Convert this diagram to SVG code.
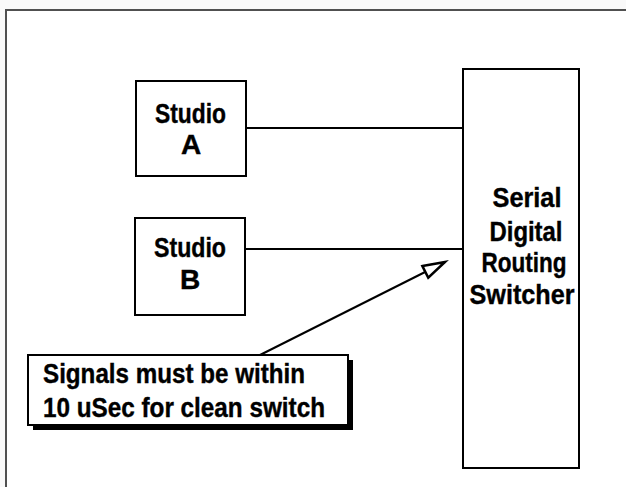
<svg xmlns="http://www.w3.org/2000/svg" width="626" height="487" viewBox="0 0 626 487">
<defs>
<style>
.box{fill:#fff;stroke:#000;stroke-width:2}
.lbl{font-family:"Liberation Sans",Arial,sans-serif;font-weight:bold;font-size:28px;fill:#000;stroke:#000;stroke-width:0.4;text-anchor:middle}
.cl{font-family:"Liberation Sans",Arial,sans-serif;font-weight:bold;font-size:28px;fill:#000;stroke:#000;stroke-width:0.4}
.ln{stroke:#000;stroke-width:2;fill:none}
</style>
<marker id="open" markerUnits="userSpaceOnUse" markerWidth="30" markerHeight="20" refX="24" refY="8" orient="auto" viewBox="0 0 30 16">
<path d="M2,1.5 L24,8 L2,14.5 Z" fill="#fff" stroke="#000" stroke-width="2.5" stroke-linejoin="miter"/>
</marker>
</defs>
<rect x="0" y="0" width="626" height="487" fill="#f9f9f9"/>
<rect x="6" y="10" width="640" height="500" fill="#fff" stroke="#505050" stroke-width="2"/>
<g id="connectors">
<line class="ln" x1="246" y1="128" x2="463" y2="128"/>
<line class="ln" x1="245" y1="249" x2="463" y2="249"/>
<line class="ln" x1="260" y1="355" x2="445" y2="262" marker-end="url(#open)"/>
</g>
<g id="studioA">
<rect class="box" x="136" y="81" width="110" height="95"/>
<text class="lbl" x="190.5" y="123" textLength="71" lengthAdjust="spacingAndGlyphs">Studio</text>
<text class="lbl" x="191" y="154">A</text>
</g>
<g id="studioB">
<rect class="box" x="135" y="218" width="110" height="97"/>
<text class="lbl" x="190" y="257" textLength="72" lengthAdjust="spacingAndGlyphs">Studio</text>
<text class="lbl" x="190" y="289">B</text>
</g>
<g id="switcher">
<rect class="box" x="463" y="69" width="116" height="399"/>
<text class="lbl" x="527" y="207" textLength="69" lengthAdjust="spacingAndGlyphs">Serial</text>
<text class="lbl" x="526" y="241" textLength="73" lengthAdjust="spacingAndGlyphs">Digital</text>
<text class="lbl" x="524" y="272" textLength="85" lengthAdjust="spacingAndGlyphs">Routing</text>
<text class="lbl" x="522" y="304" textLength="105" lengthAdjust="spacingAndGlyphs">Switcher</text>
</g>
<g id="callout">
<rect x="33" y="360" width="320" height="70" fill="#000"/>
<rect class="box" x="28" y="355" width="320" height="70"/>
<text class="cl" x="43" y="383" textLength="262" lengthAdjust="spacingAndGlyphs">Signals must be within</text>
<text class="cl" x="43" y="417" textLength="282" lengthAdjust="spacingAndGlyphs">10 uSec for clean switch</text>
</g>
</svg>
